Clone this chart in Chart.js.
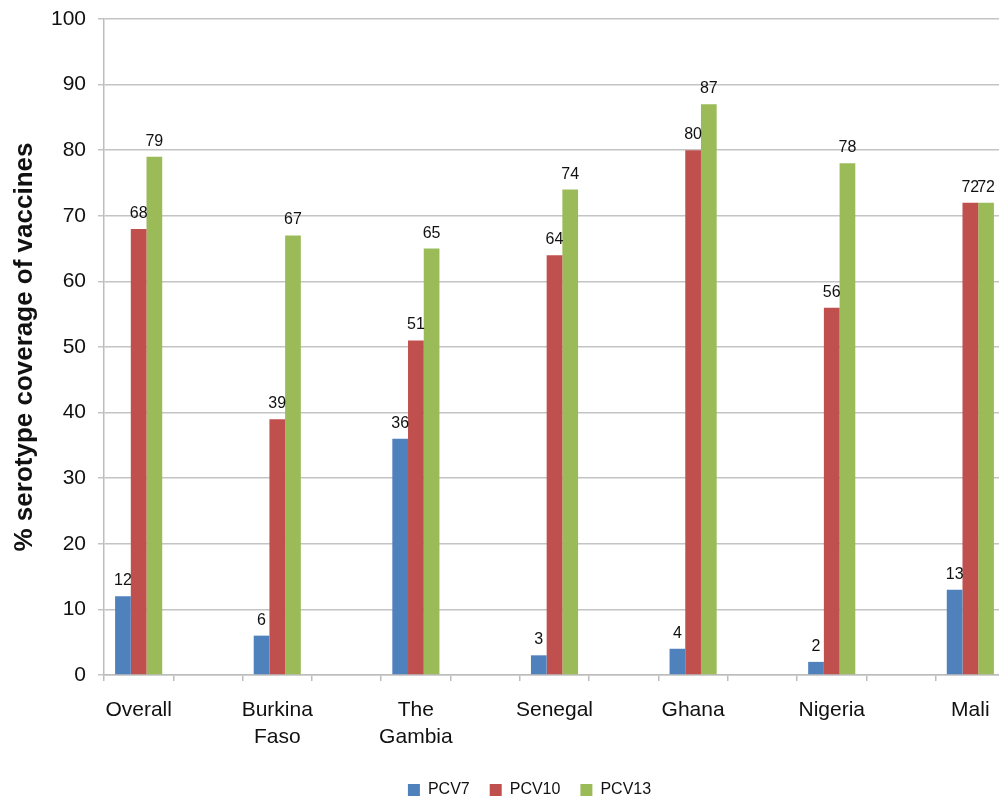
<!DOCTYPE html>
<html>
<head>
<meta charset="utf-8">
<script src="https://cdn.jsdelivr.net/npm/chart.js@4"></script>
<style>
html,body{margin:0;padding:0;overflow:hidden;background:#fff;}
#wrap{width:1006px;height:808px;position:relative;}
</style>
</head>
<body>
<div id="wrap"><canvas id="c"></canvas></div>
<script>
const categories = ['Overall', '', ['Burkina', 'Faso'], '', ['The', 'Gambia'], '', 'Senegal', '', 'Ghana', '', 'Nigeria', '', 'Mali'];
const pcv7  = [12, null, 6,  null, 36, null, 3,  null, 4,  null, 2,  null, 13];
const pcv10 = [68, null, 39, null, 51, null, 64, null, 80, null, 56, null, 72];
const pcv13 = [79, null, 67, null, 65, null, 74, null, 87, null, 78, null, 72];
const yTicks = [0, 10, 20, 30, 40, 50, 60, 70, 80, 90, 100];

const FONT = "'Liberation Sans', Arial, sans-serif";

const labelPlugin = {
  id: 'barLabels',
  afterLayout(chart) {
    if (chart.legend) { chart.legend.left += 27; chart.legend.right += 27; }
  },
  afterDatasetsDraw(chart) {
    const ctx = chart.ctx;
    ctx.save();
    ctx.font = '16px ' + FONT;
    ctx.fillStyle = '#111';
    ctx.textAlign = 'center';
    ctx.textBaseline = 'alphabetic';
    chart.data.datasets.forEach((ds, i) => {
      const meta = chart.getDatasetMeta(i);
      meta.data.forEach((el, j) => {
        const v = ds.data[j];
        if (v === null || v === undefined) return;
        ctx.fillText(String(v), el.x, el.y - 11);
      });
    });
    ctx.restore();
  }
};

new Chart(document.getElementById('c'), {
  type: 'bar',
  data: {
    labels: categories,
    datasets: [
      { label: 'PCV7',  data: pcv7,  backgroundColor: '#4F81BD' },
      { label: 'PCV10', data: pcv10, backgroundColor: '#C0504D' },
      { label: 'PCV13', data: pcv13, backgroundColor: '#9BBB59' }
    ]
  },
  options: {
    responsive: true,
    maintainAspectRatio: false,
    animation: false,
    devicePixelRatio: 1,
    layout: { padding: { top: 19, right: 1, left: 0, bottom: 0 } },
    datasets: { bar: { categoryPercentage: 0.68, barPercentage: 1.0 } },
    plugins: {
      legend: {
        position: 'bottom',
        labels: {
          boxWidth: 12, boxHeight: 12, padding: 20,
          color: '#111',
          font: { family: FONT, size: 16 }
        }
      },
      tooltip: { enabled: false }
    },
    scales: {
      x: {
        grid: { display: true, drawOnChartArea: false, drawTicks: true, tickLength: 6, color: '#bdbdbd', lineWidth: 1.5, offset: true },
        border: { color: '#bdbdbd', width: 1.5 },
        ticks: { autoSkip: false, maxRotation: 0, minRotation: 0, padding: 16, color: '#111',
                 font: { family: FONT, size: 21, lineHeight: 1.27 } },
        afterFit(scale) { scale.height = 87; scale.paddingLeft = 0; scale.paddingRight = 0; }
      },
      y: {
        min: 0, max: 100,
        afterBuildTicks(scale) { scale.ticks = yTicks.map(v => ({ value: v })); },
        grid: { color: '#c4c4c4', lineWidth: 1.5, drawTicks: true, tickLength: 6 },
        border: { color: '#bdbdbd', width: 1.5 },
        ticks: { padding: 12, color: '#111', font: { family: FONT, size: 21 } },
        title: { display: true, text: '% serotype coverage of vaccines', color: '#111',
                 font: { family: FONT, size: 26, weight: 'bold' }, padding: { top: 9, bottom: 8 } },
        afterFit(scale) { scale.width = 104; scale.paddingTop = 0; scale.paddingBottom = 0; }
      }
    }
  },
  plugins: [labelPlugin]
});
</script>
</body>
</html>
